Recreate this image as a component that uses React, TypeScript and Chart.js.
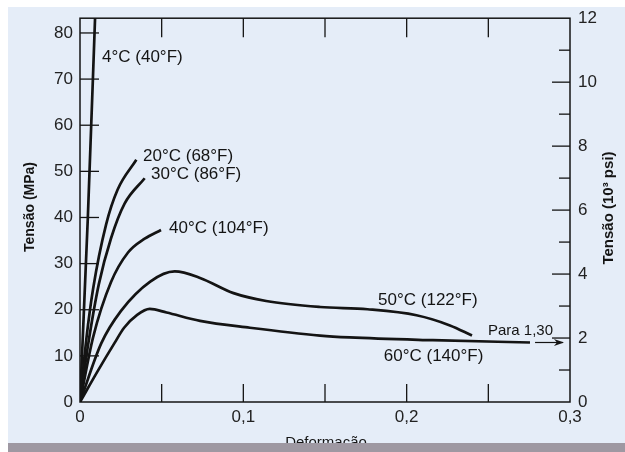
import React, { useEffect, useRef } from 'react';
import { Chart, registerables } from 'chart.js';

Chart.register(...registerables);

const W = 625;
const H = 452;

// Stress–strain curves (strain, stress in MPa)
const strain4C = [0, 0.0048, 0.0094];
const stress4C = [0, 40, 85];
const strain20C = [0, 0.004, 0.008, 0.016, 0.023, 0.0345];
const stress20C = [0, 14, 24.5, 38.5, 46, 52.5];
const strain30C = [0, 0.005, 0.0115, 0.019, 0.0273, 0.0396];
const stress30C = [0, 12.5, 25.5, 35.5, 43, 48.5];
const strain40C = [0, 0.008, 0.019, 0.0294, 0.0396, 0.0496];
const stress40C = [0, 14, 26, 32.4, 35.4, 37.3];
const strain50C = [0, 0.013, 0.025, 0.043, 0.058, 0.0735, 0.094, 0.114, 0.147, 0.176, 0.206, 0.2265, 0.24];
const stress50C = [0, 12.7, 19.7, 26.1, 28.3, 26.9, 23.6, 21.9, 20.6, 20.1, 18.8, 16.6, 14.4];
const strain60C = [0, 0.011, 0.021, 0.027, 0.035, 0.0427, 0.053, 0.0735, 0.104, 0.147, 0.165, 0.216, 0.2755];
const stress60C = [0, 6.8, 12.7, 16.1, 18.9, 20.2, 19.4, 17.6, 16.1, 14.4, 14.0, 13.4, 12.9];

const curveNames = ['4°C (40°F)', '20°C (68°F)', '30°C (86°F)', '40°C (104°F)', '50°C (122°F)', '60°C (140°F)'];

// Axis ranges / ticks
const strainMax = 0.3;
const stressMaxMPa = 83.2;
const psiMax = 12;

const xTitle = 'Deformação';
const yTitle = 'Tensão (MPa)';
const y2Title = 'Tensão (10³ psi)';
const arrowNote = 'Para 1,30';

// label anchors in data units (strain, MPa)
const labelAnchors = [
  [0.0135, 74.8],
  [0.0386, 53.2],
  [0.0435, 49.3],
  [0.0545, 37.7],
  [0.1825, 22.1],
  [0.186, 9.9],
];
const noteAnchor = [0.2498, 15.4];
const arrowFrom = [0.2786, 12.9];
const arrowTo = [0.2957, 12.9];

const PAPER = '#e5edf8';
const INK = '#141414';
const FONT = '"Liberation Sans", Arial, sans-serif';

function pts(xs: number[], ys: number[]) {
  return xs.map((x, i) => ({ x, y: ys[i] }));
}

const decor = {
  id: 'decor',
  beforeDraw(chart: any) {
    const ctx = chart.ctx;
    ctx.save();
    ctx.fillStyle = '#ffffff';
    ctx.fillRect(0, 0, W, H);
    ctx.fillStyle = PAPER;
    ctx.fillRect(8, 7, W - 8, 436);
    ctx.restore();
  },
  afterDraw(chart: any) {
    const { ctx, chartArea: a, scales } = chart;
    const xs = scales.x, ys = scales.y, y2 = scales.y2;
    ctx.save();
    ctx.strokeStyle = INK;
    ctx.lineWidth = 1.5;
    ctx.strokeRect(a.left, a.top, a.right - a.left, a.bottom - a.top);
    const line = (x1: number, y1: number, x2: number, y2p: number) => {
      ctx.beginPath();
      ctx.moveTo(x1, y1);
      ctx.lineTo(x2, y2p);
      ctx.stroke();
    };
    ctx.lineWidth = 1.3;
    xs.ticks.forEach((t: any) => {
      if (t.value <= 1e-9 || t.value >= strainMax - 1e-9) return;
      const px = xs.getPixelForValue(t.value);
      line(px, a.bottom, px, a.bottom - 18);
      line(px, a.top, px, a.top + 19);
    });
    ys.ticks.forEach((t: any) => {
      if (t.value <= 0) return;
      const py = ys.getPixelForValue(t.value);
      line(a.left, py, a.left + 19, py);
    });
    y2.ticks.forEach((t: any) => {
      if (t.value <= 0 || t.value >= psiMax) return;
      const py = y2.getPixelForValue(t.value);
      const len = Math.round(t.value) % 2 === 0 ? 18 : 11;
      line(a.right - len, py, a.right, py);
    });

    // curve labels
    ctx.fillStyle = INK;
    ctx.font = `17px ${FONT}`;
    ctx.textBaseline = 'middle';
    ctx.textAlign = 'left';
    curveNames.forEach((name, i) => {
      const [sx, sy] = labelAnchors[i];
      ctx.fillText(name, xs.getPixelForValue(sx), ys.getPixelForValue(sy));
    });
    ctx.font = `15px ${FONT}`;
    ctx.fillText(arrowNote, xs.getPixelForValue(noteAnchor[0]), ys.getPixelForValue(noteAnchor[1]));

    // arrow
    const ax1 = xs.getPixelForValue(arrowFrom[0]);
    const ay = ys.getPixelForValue(arrowFrom[1]);
    const ax2 = xs.getPixelForValue(arrowTo[0]);
    ctx.lineWidth = 1.2;
    line(ax1, ay, ax2, ay);
    ctx.beginPath();
    ctx.moveTo(ax2 + 1, ay);
    ctx.lineTo(ax2 - 9, ay - 3.5);
    ctx.lineTo(ax2 - 6, ay);
    ctx.lineTo(ax2 - 9, ay + 3.5);
    ctx.closePath();
    ctx.fill();

    // axis titles
    ctx.textAlign = 'center';
    ctx.font = `bold 14px ${FONT}`;
    ctx.save();
    ctx.translate(30, 207);
    ctx.rotate(-Math.PI / 2);
    ctx.fillText(yTitle, 0, 0);
    ctx.restore();
    ctx.save();
    ctx.font = `bold 15px ${FONT}`;
    ctx.translate(609, 208);
    ctx.rotate(-Math.PI / 2);
    ctx.fillText(y2Title, 0, 0);
    ctx.restore();
    ctx.font = `15px ${FONT}`;
    ctx.textBaseline = 'alphabetic';
    ctx.fillText(xTitle, 326, 447);

    // scanner noise band at the bottom
    ctx.fillStyle = '#9e98a2';
    ctx.fillRect(8, 443, W - 8, H - 443);
    ctx.restore();
  },
};

export default function App() {
  const ref = useRef<HTMLCanvasElement | null>(null);
  useEffect(() => {
    if (!ref.current) return;
    const ds = (xs: number[], ys: number[], label: string) => ({
      label,
      data: pts(xs, ys),
      borderColor: INK,
      borderWidth: 2.7,
      pointRadius: 0,
      fill: false,
      cubicInterpolationMode: 'monotone' as const,
    });
    const chart = new Chart(ref.current, {
      type: 'line',
      data: {
        datasets: [
          ds(strain4C, stress4C, curveNames[0]),
          ds(strain20C, stress20C, curveNames[1]),
          ds(strain30C, stress30C, curveNames[2]),
          ds(strain40C, stress40C, curveNames[3]),
          ds(strain50C, stress50C, curveNames[4]),
          ds(strain60C, stress60C, curveNames[5]),
        ],
      },
      options: {
        animation: false,
        responsive: false,
        devicePixelRatio: 1,
        layout: { padding: { top: 14, left: 0, right: 0, bottom: 0 } },
        plugins: { legend: { display: false }, tooltip: { enabled: false } },
        scales: {
          x: {
            type: 'linear',
            min: 0,
            max: strainMax,
            grid: { display: false, drawTicks: false },
            border: { display: false },
            ticks: {
              stepSize: 0.05,
              autoSkip: false,
              maxRotation: 0,
              padding: 5,
              color: '#222',
              font: { family: FONT, size: 17 },
              callback: (v: any) => {
                const n = Math.round(Number(v) * 100);
                if (n % 10 !== 0) return '';
                return n === 0 ? '0' : String(n / 100).replace('.', ',');
              },
            },
            afterFit: (s: any) => { s.height = 50; },
          },
          y: {
            type: 'linear',
            position: 'left',
            min: 0,
            max: stressMaxMPa,
            grid: { display: false, drawTicks: false },
            border: { display: false },
            ticks: {
              stepSize: 10,
              includeBounds: false,
              padding: 7,
              color: '#222',
              font: { family: FONT, size: 17 },
            },
            afterFit: (s: any) => { s.width = 80; },
          },
          y2: {
            type: 'linear',
            position: 'right',
            min: 0,
            max: psiMax,
            grid: { display: false, drawTicks: false },
            border: { display: false },
            ticks: {
              stepSize: 1,
              autoSkip: false,
              padding: 8,
              color: '#222',
              font: { family: FONT, size: 17 },
              callback: (v: any) => (Math.round(Number(v)) % 2 === 0 ? String(v) : ''),
            },
            afterFit: (s: any) => { s.width = 55; },
          },
        },
      },
      plugins: [decor],
    });
    return () => chart.destroy();
  }, []);
  return (
    <div style={{ position: 'absolute', left: 0, top: 0, width: W, height: H }}>
      <canvas ref={ref} width={W} height={H} style={{ display: 'block' }} />
    </div>
  );
}
